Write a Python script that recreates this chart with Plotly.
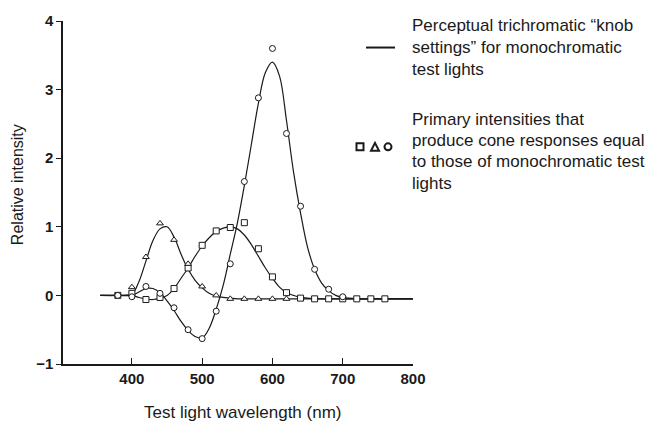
import plotly.graph_objects as go

# ---- data ----
curve_wl = [355, 380, 400, 410, 420, 430, 440, 450, 460, 470, 480, 490, 500, 510, 520, 530,
            540, 550, 560, 570, 580, 590, 600, 610, 620, 630, 640, 650, 660, 670, 680, 690,
            700, 720, 760, 800]
red_curve = [0, 0, 0, 0.05, 0.1, 0.1, 0.04, -0.08, -0.22, -0.38, -0.51, -0.6, -0.62, -0.48, -0.2, 0.15,
             0.6, 1.05, 1.6, 2.2, 2.8, 3.25, 3.4, 3.2, 2.55, 1.8, 1.2, 0.7, 0.38, 0.18, 0.07, 0.0,
             -0.03, -0.05, -0.05, -0.05]
blue_curve = [0, 0, 0.02, 0.2, 0.5, 0.8, 0.97, 1.0, 0.85, 0.6, 0.38, 0.22, 0.11, 0.03, -0.01, -0.03,
              -0.04, -0.05, -0.05, -0.05, -0.05, -0.05, -0.05, -0.05, -0.05, -0.05, -0.05, -0.05, -0.05, -0.05, -0.05, -0.05,
              -0.05, -0.05, -0.05, -0.05]
green_curve = [0, 0, 0, -0.03, -0.05, -0.06, -0.04, 0.0, 0.1, 0.25, 0.4, 0.57, 0.72, 0.84, 0.93, 0.98,
               1.0, 0.97, 0.88, 0.74, 0.57, 0.4, 0.25, 0.12, 0.04, 0.0, -0.03, -0.04, -0.05, -0.05, -0.05, -0.05,
               -0.05, -0.05, -0.05, -0.05]

sq_wl = [380, 400, 420, 440, 460, 480, 500, 520, 540, 560, 580, 600, 620, 640, 660, 680, 700, 720, 740, 760]
sq_val = [0.0, 0.03, -0.06, -0.03, 0.1, 0.4, 0.73, 0.94, 0.99, 1.06, 0.68, 0.27, 0.04, -0.04, -0.05, -0.05, -0.05, -0.05, -0.05, -0.05]

tri_wl = [400, 420, 440, 460, 480, 500, 520, 540, 560, 580, 600, 620]
tri_val = [0.12, 0.56, 1.05, 0.81, 0.46, 0.13, 0.0, -0.05, -0.05, -0.05, -0.05, -0.05]

circ_wl = [380, 400, 420, 440, 460, 480, 500, 520, 540, 560, 580, 600, 620, 640, 660, 680, 700]
circ_val = [0.0, -0.02, 0.13, 0.03, -0.18, -0.5, -0.63, -0.23, 0.46, 1.66, 2.88, 3.6, 2.36, 1.3, 0.38, 0.09, -0.02]

x_ticks = [400, 500, 600, 700, 800]
y_ticks = [-1, 0, 1, 2, 3, 4]
y_tick_text = ["\u22121", "0", "1", "2", "3", "4"]

legend_line_text = ["Perceptual trichromatic \u201cknob", "settings\u201d for monochromatic", "test lights"]
legend_sym_text = ["Primary intensities that", "produce cone responses equal",
                   "to those of monochromatic test", "lights"]

# ---- layout geometry ----
W, H = 653, 426
L, R, T, B = 63, 240, 15, 62
PW, PH = W - L - R, H - T - B


def px(x):
    return (x - L) / PW


def py(y):
    return (H - B - y) / PH


INK = "#1a1a1a"
fig = go.Figure()

for yv in (red_curve, blue_curve, green_curve):
    fig.add_trace(go.Scatter(x=curve_wl, y=yv, mode="lines",
                             line=dict(color=INK, width=1.2, shape="spline", smoothing=1.0),
                             hoverinfo="skip", showlegend=False))

mk = dict(size=6, color="white", line=dict(color=INK, width=1))
fig.add_trace(go.Scatter(x=sq_wl, y=sq_val, mode="markers",
                         marker=dict(symbol="square", **mk), showlegend=False))
fig.add_trace(go.Scatter(x=tri_wl, y=tri_val, mode="markers",
                         marker=dict(symbol="triangle-up", **mk), showlegend=False))
fig.add_trace(go.Scatter(x=circ_wl, y=circ_val, mode="markers",
                         marker=dict(symbol="circle", **mk), showlegend=False))

font_fam = "Liberation Sans, Arial, Helvetica, sans-serif"
fig.update_layout(
    width=W, height=H,
    margin=dict(l=L, r=R, t=T, b=B),
    paper_bgcolor="white", plot_bgcolor="white",
    font=dict(family=font_fam, color=INK),
    xaxis=dict(range=[302, 800], tickvals=x_ticks, showgrid=False, zeroline=False,
               showline=True, linecolor=INK, linewidth=1.5,
               ticks="inside", ticklen=6, tickwidth=1.2, tickcolor=INK,
               tickfont=dict(size=15, weight="bold", color=INK), fixedrange=True),
    yaxis=dict(range=[-1.0, 4.0], tickvals=y_ticks, ticktext=y_tick_text, showgrid=False,
               zeroline=False, showline=True, linecolor=INK, linewidth=1.5,
               ticks="outside", ticklen=5, tickwidth=1.2, tickcolor=INK,
               tickfont=dict(size=15, weight="bold", color=INK), fixedrange=True),
)

ann = []
# axis titles
ann.append(dict(text="Test light wavelength (nm)", xref="paper", yref="paper",
                x=px(243), y=py(413), xanchor="center", yanchor="middle", showarrow=False,
                font=dict(size=17, color=INK)))
ann.append(dict(text="Relative intensity", xref="paper", yref="paper",
                x=px(17), y=py(182), xanchor="center", yanchor="middle", showarrow=False,
                textangle=-90, font=dict(size=16, color=INK)))
# legend texts
for i, t in enumerate(legend_line_text):
    ann.append(dict(text=t, xref="paper", yref="paper", x=px(410), y=py(20 + 22 * i),
                    xanchor="left", yanchor="middle", showarrow=False,
                    font=dict(size=17, color=INK)))
for i, t in enumerate(legend_sym_text):
    ann.append(dict(text=t, xref="paper", yref="paper", x=px(410), y=py(115 + 21.7 * i),
                    xanchor="left", yanchor="middle", showarrow=False,
                    font=dict(size=17, color=INK)))
fig.update_layout(annotations=ann)

shapes = []
# legend line sample
shapes.append(dict(type="line", xref="paper", yref="paper", x0=px(366), x1=px(395),
                   y0=py(42), y1=py(42), line=dict(color=INK, width=2)))
# legend symbols
shapes.append(dict(type="rect", xref="paper", yref="paper", x0=px(356.5), x1=px(363.5),
                   y0=py(146.5), y1=py(139.5), line=dict(color=INK, width=2)))
tri = "M {:.4f} {:.4f} L {:.4f} {:.4f} L {:.4f} {:.4f} Z".format(
    px(371), py(147), px(379), py(147), px(375), py(139))
shapes.append(dict(type="path", xref="paper", yref="paper", path=tri,
                   line=dict(color=INK, width=2)))
shapes.append(dict(type="circle", xref="paper", yref="paper", x0=px(384.5), x1=px(391.5),
                   y0=py(146.5), y1=py(139.5), line=dict(color=INK, width=2)))
fig.update_layout(shapes=shapes)

fig.write_html("out.html", config={"displayModeBar": False},
               post_script="document.body.style.margin='0';")
